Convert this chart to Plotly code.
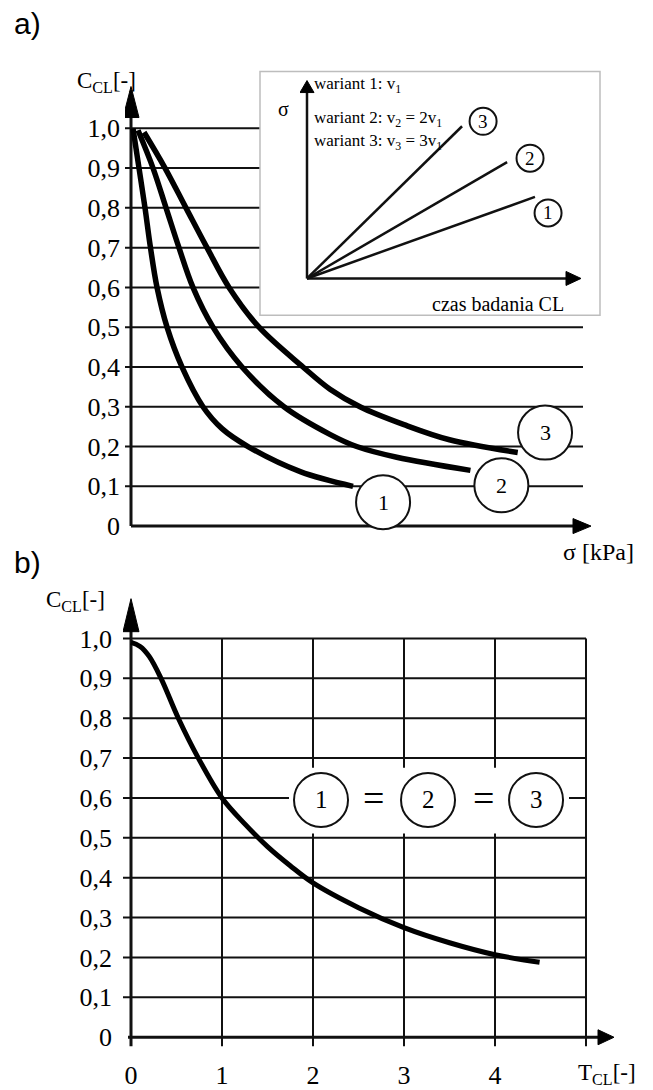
import plotly.graph_objects as go

W, H = 653, 1090

# ---------------- data ----------------
y_ticks = [0.0, 0.1, 0.2, 0.3, 0.4, 0.5, 0.6, 0.7, 0.8, 0.9, 1.0]
y_tick_labels = ["0", "0,1", "0,2", "0,3", "0,4", "0,5", "0,6", "0,7", "0,8", "0,9", "1,0"]

# panel a): C_CL against sigma (sigma axis has no scale -> arbitrary units)
a_sigma_1 = [0.022, 0.088, 0.154, 0.214, 0.286, 0.396, 0.56, 0.791, 1.00, 1.286, 1.86, 2.44]
a_ccl_1 = [1.00, 0.90, 0.80, 0.70, 0.60, 0.50, 0.40, 0.30, 0.245, 0.20, 0.137, 0.10]

a_sigma_2 = [0.077, 0.242, 0.385, 0.527, 0.681, 0.901, 1.22, 1.681, 2.19, 2.48, 2.92, 3.73]
a_ccl_2 = [0.995, 0.90, 0.80, 0.70, 0.60, 0.50, 0.40, 0.30, 0.23, 0.20, 0.173, 0.14]

a_sigma_3 = [0.143, 0.374, 0.604, 0.835, 1.077, 1.407, 1.89, 2.187, 2.516, 3.00, 3.50, 4.25]
a_ccl_3 = [0.99, 0.90, 0.80, 0.70, 0.60, 0.50, 0.40, 0.344, 0.30, 0.255, 0.217, 0.185]

curve_names = ["1", "2", "3"]
a_label_sigma = [2.77, 4.07, 4.55]
a_label_ccl = [0.06, 0.1025, 0.235]

# inset: sigma vs test time for the three loading variants
inset_t_end = [0.835, 0.733, 0.568]
inset_s_end = [0.414, 0.591, 0.773]
inset_label_t = [0.883, 0.817, 0.645]
inset_label_s = [0.333, 0.611, 0.798]
inset_texts = ["wariant 1: v<sub>1</sub>",
               "wariant 2: v<sub>2</sub> = 2v<sub>1</sub>",
               "wariant 3: v<sub>3</sub> = 3v<sub>1</sub>"]
inset_text_s = [0.985, 0.808, 0.692]

# panel b): C_CL against T_CL
b_x_ticks = [0, 1, 2, 3, 4]
b_x_tick_labels = ["0", "1", "2", "3", "4"]
b_grid_x = [1, 2, 3, 4, 5]
b_T = [0.0, 0.1, 0.2, 0.33, 0.52, 0.74, 1.0, 1.25, 1.5, 1.75, 2.0, 2.5, 3.0, 3.5, 4.0, 4.49]
b_C = [0.99, 0.98, 0.955, 0.90, 0.80, 0.70, 0.60, 0.535, 0.478, 0.43, 0.387, 0.325, 0.275, 0.237, 0.207, 0.188]
b_label_T = [2.088, 3.264, 4.451]
b_label_C = 0.595
b_eq_T = [2.66, 3.87]

# ---------------- layout helpers (pixel geometry) ----------------
def fx(px):
    return px / W

def fy(py):
    return 1 - py / H

# panel a axes: x origin 131px, 91 px/unit ; y origin 529px, 400 px/unit
A_X0, A_XS, A_Y0, A_YS = 131, 91.0, 529, 400.0
def ax_(px):
    return (px - A_X0) / A_XS
def ay_(py):
    return (A_Y0 - py) / A_YS

# panel b axes: x origin 131px, 91 px/unit ; y origin 1043px, 401 px/unit
B_X0, B_XS, B_Y0, B_YS = 131, 91.0, 1043, 401.0
def bx_(px):
    return (px - B_X0) / B_XS
def by_(py):
    return (B_Y0 - py) / B_YS

# inset axes: origin (307, 280), 273 px/unit in x, 198 px/unit in y
I_X0, I_XS, I_Y0, I_YS = 307, 273.0, 280, 198.0
def ix_(px):
    return (px - I_X0) / I_XS
def iy_(py):
    return (I_Y0 - py) / I_YS

INK = "#111111"
SERIF = "Liberation Serif"
SANS = "Liberation Sans"

fig = go.Figure()

curve_style = dict(color="black", width=5.5, shape="spline", smoothing=1)
for xs, ys in [(a_sigma_1, a_ccl_1), (a_sigma_2, a_ccl_2), (a_sigma_3, a_ccl_3)]:
    fig.add_trace(go.Scatter(x=xs, y=ys, mode="lines", line=curve_style,
                             xaxis="x", yaxis="y", showlegend=False, hoverinfo="skip"))

for t, s in zip(inset_t_end, inset_s_end):
    fig.add_trace(go.Scatter(x=[0, t], y=[0, s], mode="lines",
                             line=dict(color=INK, width=2.5),
                             xaxis="x3", yaxis="y3", showlegend=False, hoverinfo="skip"))

fig.add_trace(go.Scatter(x=b_T, y=b_C, mode="lines",
                         line=dict(color="black", width=5, shape="spline", smoothing=1),
                         xaxis="x2", yaxis="y2", showlegend=False, hoverinfo="skip"))

shapes = []

def seg(xr, yr, x0, y0, x1, y1, w=2, color=INK, layer="below"):
    shapes.append(dict(type="line", xref=xr, yref=yr, x0=x0, y0=y0, x1=x1, y1=y1,
                       line=dict(color=color, width=w), layer=layer))

def arrow(xr, yr, xa, ya, path):
    shapes.append(dict(type="path", xref=xr, yref=yr, xsizemode="pixel", ysizemode="pixel",
                       xanchor=xa, yanchor=ya, path=path, fillcolor="black",
                       line=dict(color="black", width=1), layer="above"))

def circle(xr, yr, xc, yc, r, w=2):
    shapes.append(dict(type="circle", xref=xr, yref=yr, xsizemode="pixel", ysizemode="pixel",
                       xanchor=xc, yanchor=yc, x0=-r, x1=r, y0=-r, y1=r,
                       fillcolor="white", line=dict(color=INK, width=w), layer="above"))

# ---- panel a ----
box_left = ax_(260)
for v in y_ticks[1:]:
    seg("x", "y", ax_(125), v, box_left if v >= 0.6 else ax_(583), v, 2)
seg("x", "y", 0, 0, 0, ay_(115), 3)
seg("x", "y", 0, 0, ax_(576), 0, 3)
arrow("x", "y", 0, ay_(87), "M 0,0 L -8,-31 L 8,-31 Z")
arrow("x", "y", ax_(591), 0, "M 0,0 L -18,7.5 L -18,-7.5 Z")
for xc, yc in zip(a_label_sigma, a_label_ccl):
    circle("x", "y", xc, yc, 27)

# inset frame
shapes.append(dict(type="rect", xref="paper", yref="paper", x0=fx(260), x1=fx(600),
                   y0=fy(317), y1=fy(72), line=dict(color="#bdbdbd", width=1.5), layer="above"))
seg("x3", "y3", 0, 0, 0, iy_(90), 2.5)
seg("x3", "y3", 0, 0, ix_(568), 0, 2.5)
arrow("x3", "y3", 0, iy_(81), "M 0,0 L -7,-12 L 7,-12 Z")
arrow("x3", "y3", ix_(581), 0, "M 0,0 L -15,7 L -15,-7 Z")
for xc, yc in zip(inset_label_t, inset_label_s):
    circle("x3", "y3", xc, yc, 13.5, 2)

# ---- panel b ----
for v in y_ticks[1:]:
    seg("x2", "y2", bx_(123), v, 5, v, 2)
for g in b_grid_x:
    seg("x2", "y2", g, by_(1052), g, 1.0, 2)
seg("x2", "y2", 0, by_(1052), 0, by_(632), 3)
seg("x2", "y2", bx_(128), 0, bx_(600), 0, 3)
arrow("x2", "y2", 0, by_(602), "M 0,0 L -8,-33 L 8,-33 Z")
arrow("x2", "y2", bx_(614), 0, "M 0,0 L -16,7.5 L -16,-7.5 Z")
# white gap behind the "1 = 2 = 3" statement
shapes.append(dict(type="rect", xref="x2", yref="y2", x0=bx_(289), x1=bx_(569),
                   y0=by_(838), y1=by_(772), fillcolor="white",
                   line=dict(width=0), layer="below"))
for xc in b_label_T:
    circle("x2", "y2", xc, b_label_C, 27)

annotations = []

def text(xr, yr, x, y, s, size, font=SERIF, xanchor="center", yanchor="middle"):
    annotations.append(dict(xref=xr, yref=yr, x=x, y=y, text=s, showarrow=False,
                            xanchor=xanchor, yanchor=yanchor,
                            font=dict(family=font, size=size, color="black")))

text("paper", "paper", fx(12), fy(24), "a)", 30, SANS, "left")
text("paper", "paper", fx(12), fy(566), "b)", 30, SANS, "left")
text("paper", "paper", fx(75), fy(82), "C<sub>CL</sub>[-]", 23, SERIF, "left")
text("paper", "paper", fx(44), fy(604), "C<sub>CL</sub>[-]", 23, SERIF, "left")
text("paper", "paper", fx(561), fy(555), "σ [kPa]", 24, SERIF, "left")
text("paper", "paper", fx(576), fy(1080), "T<sub>CL</sub>[-]", 23, SERIF, "left")

for name, xc, yc in zip(curve_names, a_label_sigma, a_label_ccl):
    text("x", "y", xc, yc, name, 22)
for name, xc, yc in zip(curve_names, inset_label_t, inset_label_s):
    text("x3", "y3", xc, yc, name, 19)
for s, yv in zip(inset_texts, inset_text_s):
    text("x3", "y3", ix_(312), yv, s, 17, SERIF, "left")
text("paper", "paper", fx(283), fy(110), "σ", 20)
text("paper", "paper", fx(566), fy(306), "czas badania CL", 20, SERIF, "right")

for name, xc in zip(curve_names, b_label_T):
    text("x2", "y2", xc, b_label_C, name, 25)
for xe in b_eq_T:
    text("x2", "y2", xe, b_label_C + 0.005, "=", 38)

tickfont = dict(family=SERIF, size=26, color="black")
fig.update_layout(
    width=W, height=H,
    margin=dict(l=0, r=0, t=0, b=0),
    paper_bgcolor="white", plot_bgcolor="white",
    showlegend=False,
    shapes=shapes, annotations=annotations,
    xaxis=dict(domain=[fx(125), fx(600)], range=[ax_(125), ax_(600)], visible=False,
               fixedrange=True),
    yaxis=dict(domain=[fy(545), fy(60)], range=[ay_(545), ay_(60)], anchor="x",
               tickvals=y_ticks, ticktext=y_tick_labels, ticks="", showgrid=False,
               zeroline=False, showline=False, tickfont=tickfont, ticklabelstandoff=4,
               fixedrange=True),
    xaxis2=dict(domain=[fx(123), fx(625)], range=[bx_(123), bx_(625)], anchor="y2",
                tickvals=b_x_ticks, ticktext=b_x_tick_labels, ticks="", showgrid=False,
                zeroline=False, showline=False, tickfont=tickfont, ticklabelstandoff=3,
                fixedrange=True),
    yaxis2=dict(domain=[fy(1060), fy(595)], range=[by_(1060), by_(595)], anchor="x2",
                tickvals=y_ticks, ticktext=y_tick_labels, ticks="", showgrid=False,
                zeroline=False, showline=False, tickfont=tickfont, ticklabelstandoff=10,
                fixedrange=True),
    xaxis3=dict(domain=[fx(300), fx(598)], range=[ix_(300), ix_(598)], anchor="y3",
                visible=False, fixedrange=True),
    yaxis3=dict(domain=[fy(290), fy(75)], range=[iy_(290), iy_(75)], anchor="x3",
                visible=False, fixedrange=True),
)

fig.write_html("out.html", config={"displayModeBar": False},
               post_script="document.body.style.margin='0';")
